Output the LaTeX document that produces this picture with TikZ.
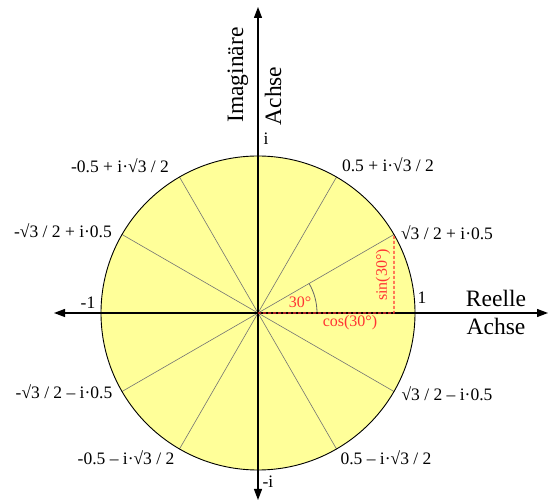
\documentclass[tikz,border=0pt]{standalone}
\usepackage{fontspec}
\setmainfont{Liberation Serif}
\usetikzlibrary{arrows.meta,calc}
\definecolor{circfill}{RGB}{255,255,153}
\definecolor{redlab}{RGB}{255,51,51}
\begin{document}
\begin{tikzpicture}[x=1pt,y=1pt,
  lbl/.style={font=\fontsize{17.5}{19}\selectfont, inner sep=0pt},
  ttl/.style={font=\fontsize{23.5}{25}\selectfont, inner sep=0pt},
  rlbl/.style={font=\fontsize{16}{17}\selectfont, text=redlab, inner sep=0pt},
  ray/.style={draw=black!55, line width=0.6pt},
  axisline/.style={line width=1.2pt, {Triangle[length=11pt,width=8pt]}-{Triangle[length=11pt,width=8pt]}},
  rdash/.style={draw=redlab, line width=1.1pt, dash pattern=on 3pt off 2pt}]
\useasboundingbox (0,0) rectangle (553,502);
\coordinate (C) at (258,189);
\fill[circfill] (C) circle[radius=157];
\foreach \a in {30,60,120,150,210,240,300,330} {
  \coordinate (p\a) at ($(C)+(\a:157)$);
  \draw[ray] (C) -- (p\a);
}
\draw[line width=0.9pt] (C) circle[radius=157];
\coordinate (A0) at ($(C)+(59,0)$);
\draw[black!60, line width=0.8pt] (A0) arc[start angle=0,end angle=30,radius=59];
\coordinate (xl) at (54,189);
\coordinate (xr) at (548,189);
\coordinate (yb) at (258,2);
\coordinate (yt) at (258,495);
\draw[axisline] (xl) -- (xr);
\draw[axisline] (yb) -- (yt);
\coordinate (P) at ($(C)+(135.97,0)$);
\coordinate (Q) at ($(C)+(30:157)$);
\draw[rdash] (C) -- (P) -- (Q);
% labels
\node[lbl] (li) at (266,363) {i};
\node[lbl] (lmi) at (268,20) {-i};
\node[lbl] (l1) at (422,204) {1};
\node[lbl] (lm1) at (88,199) {-1};
\node[lbl] (l60) at (388,337) {0.5 + i·√3 / 2};
\node[lbl] (l120) at (120,336) {-0.5 + i·√3 / 2};
\node[lbl] (l30) at (447,269) {√3 / 2 + i·0.5};
\node[lbl] (l150) at (63,271) {-√3 / 2 + i·0.5};
\node[lbl] (l210) at (64,110) {-√3 / 2 – i·0.5};
\node[lbl] (l330) at (447,108) {√3 / 2 – i·0.5};
\node[lbl] (l240) at (126,44) {-0.5 – i·√3 / 2};
\node[lbl] (l300) at (386,44) {0.5 – i·√3 / 2};
\node[ttl, rotate=90] (im1) at (238,427) {Imaginäre};
\node[ttl, rotate=90] (im2) at (273,406) {Achse};
\node[ttl] (re1) at (496,204) {Reelle};
\node[ttl] (re2) at (496,176) {Achse};
\node[rlbl] (ang) at (300,200) {30°};
\node[rlbl] (cos) at (350,179) {cos(30°)};
\node[rlbl, rotate=90] (sin) at (383,227) {sin(30°)};
\end{tikzpicture}
\end{document}
